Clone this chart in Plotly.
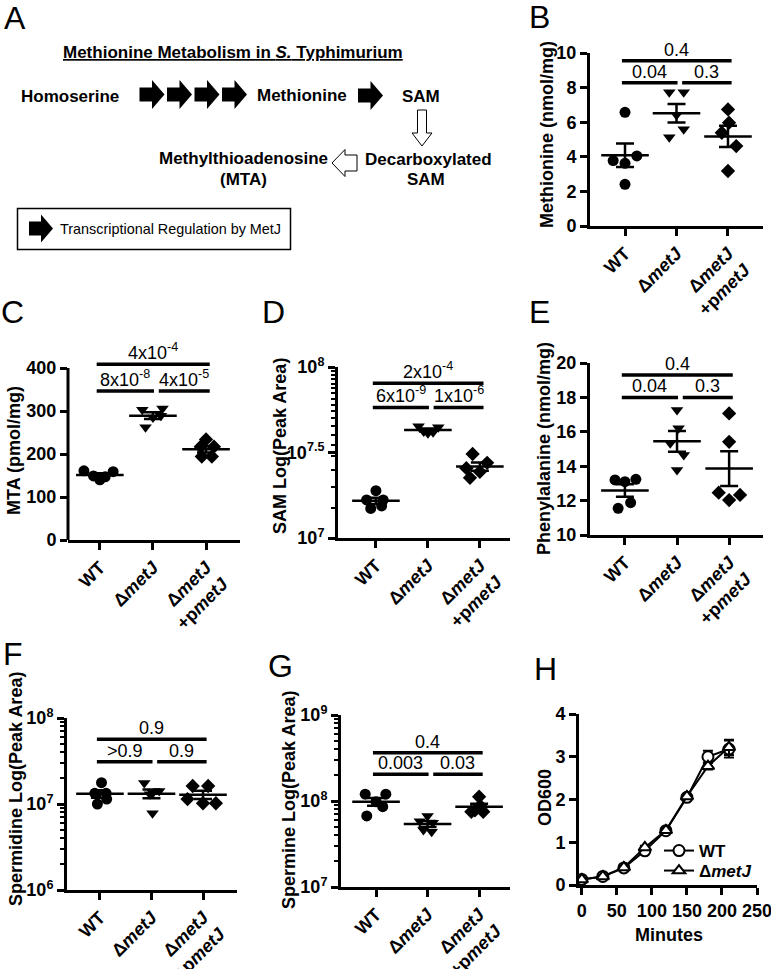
import numpy as np
import plotly.graph_objects as go

FIG_W, FIG_H = 771, 969
FONT = "Liberation Sans, Arial, sans-serif"

# ---------------- data ----------------
groups = ["WT", "Δ<i>metJ</i>", "Δ<i>metJ</i><br>+p<i>metJ</i>"]
comparisons = [(0, 2), (0, 1), (1, 2)]

# B  Methionine (nmol/mg)
met_wt = [6.57, 3.78, 3.62, 4.05, 2.41]
met_metj = [7.73, 7.73, 6.42, 5.59, 5.13]
met_comp = [6.74, 5.97, 5.39, 4.62, 3.18]
met_pvals = ["0.4", "0.04", "0.3"]
met_bar_y = [9.55, 8.28, 8.28]

# C  MTA (pmol/mg)
mta_wt = [161, 159, 140, 147, 149]
mta_metj = [303, 306, 285, 289, 262]
mta_comp = [234, 217, 217, 194, 194]
mta_pvals = ["4x10<sup>-4</sup>", "8x10<sup>-8</sup>", "4x10<sup>-5</sup>"]
mta_bar_y = [408.5, 346.5, 346.5]

# D  SAM peak area
sam_wt = [1.89e7, 1.67e7, 1.67e7, 1.49e7, 1.54e7]
sam_metj = [4.50e7, 4.45e7, 4.10e7, 4.20e7, 4.15e7]
sam_comp = [3.10e7, 2.56e7, 2.75e7, 2.44e7, 2.25e7]
sam_pvals = ["2x10<sup>-4</sup>", "6x10<sup>-9</sup>", "1x10<sup>-6</sup>"]
sam_bar_y = [8.04e7, 5.8e7, 5.8e7]

# E  Phenylalanine (nmol/mg)
phe_wt = [13.20, 13.10, 13.24, 11.55, 11.88]
phe_metj = [17.27, 16.20, 15.33, 14.65, 13.78]
phe_comp = [17.07, 15.42, 12.46, 12.33, 12.03]
phe_pvals = ["0.4", "0.04", "0.3"]
phe_bar_y = [19.3, 18.0, 18.0]

# F  Spermidine peak area
spd_wt = [1.77e7, 1.33e7, 1.33e7, 1.00e7, 1.14e7]
spd_metj = [1.75e7, 1.42e7, 1.35e7, 1.30e7, 7.8e6]
spd_comp = [1.62e7, 1.62e7, 1.14e7, 1.02e7, 1.02e7]
spd_pvals = ["0.9", "&gt;0.9", "0.9"]
spd_bar_y = [5.65e7, 3.1e7, 3.1e7]

# G  Spermine peak area
spm_wt = [1.20e8, 1.20e8, 9.8e7, 8.6e7, 6.7e7]
spm_metj = [6.7e7, 5.8e7, 5.6e7, 4.6e7, 4.4e7]
spm_comp = [1.12e8, 7.5e7, 8.8e7, 7.5e7, 7.8e7]
spm_pvals = ["0.4", "0.003", "0.03"]
spm_bar_y = [3.65e8, 2.04e8, 2.04e8]

# H  growth
minutes = [0, 30, 60, 90, 120, 150, 180, 210]
od_wt = [0.13, 0.20, 0.40, 0.80, 1.27, 2.05, 3.00, 3.18]
od_wt_err = [0.02, 0.02, 0.03, 0.04, 0.05, 0.05, 0.14, 0.20]
od_metj = [0.13, 0.20, 0.41, 0.88, 1.28, 2.07, 2.78, 3.22]
od_metj_err = [0.02, 0.02, 0.03, 0.04, 0.05, 0.05, 0.08, 0.18]

# scatter jitter (category units) for each group
met_jitter = [[0, -0.23, 0, 0.23, 0], [-0.14, 0.14, 0, 0.14, -0.14], [0, 0.02, -0.12, 0.16, 0]]
mta_jitter = [[-0.3, 0.25, 0, 0.1, -0.12], [-0.2, 0.18, 0, 0.15, -0.14], [0, -0.1, 0.15, -0.08, 0.11]]
sam_jitter = [[0, -0.18, 0.14, -0.1, 0.11], [-0.18, 0.2, 0, -0.08, 0.1], [-0.14, -0.26, 0.14, 0, -0.19]]
phe_jitter = [[-0.19, 0, 0.21, -0.13, 0.11], [0, 0.03, -0.13, 0.13, 0], [0, 0, -0.2, 0.21, 0]]
spd_jitter = [[0.03, -0.1, 0.12, -0.05, 0.13], [-0.14, 0.15, 0.03, -0.03, 0.02], [-0.2, 0.1, -0.3, 0.0, 0.25]]
spm_jitter = [[-0.21, 0.19, 0, 0.13, -0.18], [0, -0.15, 0.1, -0.08, 0.08], [0, -0.15, 0.02, 0.08, -0.08]]

# ---------------- helpers ----------------
def px(x):
    return x / FIG_W


def py(y):
    return 1 - y / FIG_H


fig = go.Figure()
annotations = []
shapes = []

AX_LINE = 3
TICK_W = 2.5
AXFS = 18
TFONT = dict(family=FONT, size=AXFS, color="black", weight="bold")


def ax_names(n):
    return ("x" if n == 1 else f"x{n}"), ("y" if n == 1 else f"y{n}")


def dot_panel(n, data, jitter, pvals, bar_y, log=False):
    xa, ya = ax_names(n)
    symbols = ["circle", "triangle-down", "diamond"]
    for g, (vals, jit) in enumerate(zip(data, jitter)):
        fig.add_trace(go.Scatter(
            x=[g + j for j in jit], y=vals, mode="markers",
            marker=dict(symbol=symbols[g], size=11, color="black", line=dict(width=0)),
            xaxis=xa, yaxis=ya, showlegend=False, hoverinfo="skip"))
        arr = np.array(vals, dtype=float)
        m = arr.mean()
        s = arr.std(ddof=1) / np.sqrt(len(arr))
        fig.add_trace(go.Scatter(
            x=[g], y=[m], mode="markers",
            marker=dict(symbol="line-ew", size=34, color="black",
                        line=dict(width=2.5, color="black")),
            error_y=dict(type="data", array=[s], width=9, thickness=2.5, color="black"),
            xaxis=xa, yaxis=ya, showlegend=False, hoverinfo="skip"))
    bx, by = [], []
    for (a, b), yv, lab in zip(comparisons, bar_y, pvals):
        x0 = a - 0.06 if a == 0 else a + 0.11
        x1 = b + 0.07 if b == 2 else b + 0.02
        bx += [x0, x1, None]
        by += [yv, yv, None]
        annotations.append(dict(
            x=(x0 + x1) / 2, y=(np.log10(yv) if log else yv), xref=xa, yref=ya,
            text=lab, showarrow=False, yanchor="bottom", xanchor="center",
            font=dict(family=FONT, size=18, color="black"), yshift=-1))
    fig.add_trace(go.Scatter(x=bx, y=by, mode="lines", line=dict(color="black", width=3.5),
                             xaxis=xa, yaxis=ya, showlegend=False, hoverinfo="skip"))


def set_axes(n, xdom, ydom, xrange, yrange, ytickvals, yticktext=None, log=False,
             yminor=None, yline=True, xcat=True, xtickvals=None):
    xa, ya = ax_names(n)
    xkey = "xaxis" if n == 1 else f"xaxis{n}"
    ykey = "yaxis" if n == 1 else f"yaxis{n}"
    xd = dict(domain=[px(xdom[0]), px(xdom[1])], range=xrange, anchor=ya,
              showline=True, linewidth=AX_LINE, linecolor="black", showgrid=False,
              zeroline=False, ticks="outside", ticklen=7, tickwidth=TICK_W,
              tickcolor="black", tickfont=TFONT, fixedrange=True, automargin=False,
              ticklabeloverflow="allow")
    if xcat:
        xd.update(tickmode="array", tickvals=[0, 1, 2], ticktext=groups, tickangle=-45)
    else:
        xd.update(tickmode="array", tickvals=xtickvals)
    yd = dict(domain=[py(ydom[0]), py(ydom[1])], range=yrange, anchor=xa,
              showline=yline, linewidth=AX_LINE, linecolor="black", showgrid=False,
              zeroline=False, ticks="outside", ticklen=7, tickwidth=TICK_W,
              tickcolor="black", tickfont=TFONT, tickmode="array", tickvals=ytickvals,
              fixedrange=True, automargin=False, ticklabeloverflow="allow")
    if yticktext is not None:
        yd["ticktext"] = yticktext
    if log:
        yd["type"] = "log"
    if yminor is not None:
        yd["minor"] = dict(tickmode="array", tickvals=yminor, ticks="outside", ticklen=4,
                           tickwidth=2, tickcolor="black", showgrid=False)
    fig.update_layout({xkey: xd, ykey: yd})


def ytitle(text, x, y):
    annotations.append(dict(x=px(x), y=py(y), xref="paper", yref="paper", text=text,
                            textangle=-90, showarrow=False, xanchor="center", yanchor="middle",
                            font=dict(family=FONT, size=AXFS, color="black", weight="bold")))


# ---------------- panels ----------------
dot_panel(1, [met_wt, met_metj, met_comp], met_jitter, met_pvals, met_bar_y)
set_axes(1, (590, 763), (226, 53), [-0.68, 2.68], [0, 10], [0, 2, 4, 6, 8, 10])
ytitle("Methionine (nmol/mg)", 547, 135)

dot_panel(2, [mta_wt, mta_metj, mta_comp], mta_jitter, mta_pvals, mta_bar_y)
set_axes(2, (68, 240), (540, 359.4), [-0.60, 2.64], [0, 420], [0, 100, 200, 300, 400], yline=False)
shapes.append(dict(type="line", xref="x2 domain", yref="y2", x0=0, x1=0, y0=0, y1=400,
                   line=dict(color="black", width=AX_LINE)))
ytitle("MTA (pmol/mg)", 14, 451)

sam_minor = [k * 5e6 for k in range(3, 20)]
dot_panel(3, [sam_wt, sam_metj, sam_comp], sam_jitter, sam_pvals, sam_bar_y, log=True)
set_axes(3, (338, 510), (538, 367), [-0.73, 2.58], [7, 8], [1e7, 10 ** 7.5, 1e8],
         ["10<sup>7</sup>", "10<sup>7.5</sup>", "10<sup>8</sup>"], log=True, yminor=sam_minor)
ytitle("SAM Log(Peak Area)", 280, 446)

dot_panel(4, [phe_wt, phe_metj, phe_comp], phe_jitter, phe_pvals, phe_bar_y)
set_axes(4, (590, 763), (535, 363), [-0.67, 2.65], [10, 20], [10, 12, 14, 16, 18, 20])
ytitle("Phenylalanine (nmol/mg)", 544, 449)

spd_minor = [m * 10 ** e for e in (6, 7) for m in range(2, 10)]
dot_panel(5, [spd_wt, spd_metj, spd_comp], spd_jitter, spd_pvals, spd_bar_y, log=True)
set_axes(5, (67, 237), (890, 718), [-0.64, 2.66], [6, 8], [1e6, 1e7, 1e8],
         ["10<sup>6</sup>", "10<sup>7</sup>", "10<sup>8</sup>"], log=True, yminor=spd_minor)
ytitle("Spermidine Log(Peak Area)", 16, 789)

spm_minor = [m * 10 ** e for e in (7, 8) for m in range(2, 10)]
dot_panel(6, [spm_wt, spm_metj, spm_comp], spm_jitter, spm_pvals, spm_bar_y, log=True)
set_axes(6, (341, 510), (887, 715), [-0.68, 2.60], [7, 9], [1e7, 1e8, 1e9],
         ["10<sup>7</sup>", "10<sup>8</sup>", "10<sup>9</sup>"], log=True, yminor=spm_minor)
ytitle("Spermine Log(Peak Area)", 289, 800)

# H growth curve
fig.add_trace(go.Scatter(
    x=minutes, y=od_wt, name="WT", mode="lines+markers",
    line=dict(color="black", width=2),
    marker=dict(symbol="circle", size=11, color="white", line=dict(color="black", width=2)),
    error_y=dict(type="data", array=od_wt_err, width=5, thickness=2, color="black"),
    xaxis="x7", yaxis="y7", hoverinfo="skip", legend="legend"))
fig.add_trace(go.Scatter(
    x=minutes, y=od_metj, name="Δ<i>metJ</i>", mode="lines+markers",
    line=dict(color="black", width=2),
    marker=dict(symbol="triangle-up", size=11, color="white", line=dict(color="black", width=2)),
    error_y=dict(type="data", array=od_metj_err, width=5, thickness=2, color="black"),
    xaxis="x7", yaxis="y7", hoverinfo="skip", legend="legend2"))
set_axes(7, (579, 757), (885, 714), [-4, 250], [0, 4], [0, 1, 2, 3, 4], xcat=False,
         xtickvals=[0, 50, 100, 150, 200, 250])
ytitle("OD600", 545, 798)
annotations.append(dict(x=px(669), y=py(935), xref="paper", yref="paper", text="Minutes",
                        showarrow=False, xanchor="center", yanchor="middle",
                        font=dict(family=FONT, size=AXFS, color="black", weight="bold")))

# ---------------- panel A diagram ----------------
def poly(points, fill, lw):
    d = "M " + " L ".join(f"{px(x):.5f},{py(y):.5f}" for x, y in points) + " Z"
    return dict(type="path", xref="paper", yref="paper", path=d, fillcolor=fill,
                line=dict(color="black", width=lw), layer="above")


def right_arrow(x0, yc, w=25, sh=7, hh=14.5):
    ws = x0 + w * 0.5
    return poly([(x0, yc - sh), (ws, yc - sh), (ws, yc - hh), (x0 + w, yc),
                 (ws, yc + hh), (ws, yc + sh), (x0, yc + sh)], "black", 0)


for cx in (152, 179.5, 207, 234.5):
    shapes.append(right_arrow(cx - 12.5, 94.5))
shapes.append(right_arrow(358, 95.5))
shapes.append(right_arrow(29, 228.5, w=24, sh=7, hh=14))
# open down arrow SAM -> decarboxylated SAM
shapes.append(poly([(417.5, 110), (426.5, 110), (426.5, 133), (432, 133), (422, 146),
                    (412, 133), (417.5, 133)], "white", 1))
# open left arrow decarboxylated SAM -> MTA
shapes.append(poly([(357, 155), (345, 155), (345, 149.5), (332, 163), (345, 176.5),
                    (345, 171), (357, 171)], "white", 1))
# legend box
shapes.append(dict(type="rect", xref="paper", yref="paper", x0=px(17.5), x1=px(290.5),
                   y0=py(208.5), y1=py(249.5), line=dict(color="black", width=1.5)))


def label(text, x, y, size=17, bold=True, xanchor="center"):
    annotations.append(dict(x=px(x), y=py(y), xref="paper", yref="paper", text=text,
                            showarrow=False, xanchor=xanchor, yanchor="middle",
                            font=dict(family=FONT, size=size, color="black",
                                      weight="bold" if bold else "normal")))


label("<u>Methionine Metabolism in <i>S.</i> Typhimurium</u>", 233, 52.5)
label("Homoserine", 70, 96.5)
label("Methionine", 302, 95.5)
label("SAM", 421, 96)
label("Methylthioadenosine", 243, 158.5)
label("(MTA)", 243, 179)
label("Decarboxylated", 363, 159.5, xanchor="left")
label("SAM", 426, 179)
label("Transcriptional Regulation by MetJ", 58, 229, size=14.4, bold=False, xanchor="left")

# panel letters
for letter, x, y in [("A", 15, 18), ("B", 539, 17), ("C", 12.5, 312), ("D", 273, 312),
                     ("E", 539, 312), ("F", 12.5, 654), ("G", 280.5, 666), ("H", 545.5, 668.5)]:
    annotations.append(dict(x=px(x), y=py(y), xref="paper", yref="paper", text=letter,
                            showarrow=False, xanchor="center", yanchor="middle",
                            font=dict(family=FONT, size=32, color="black")))

LEG_FONT = dict(family=FONT, size=17, color="black", weight="bold")
fig.update_layout(
    width=FIG_W, height=FIG_H,
    margin=dict(l=0, r=0, t=0, b=0, pad=0, autoexpand=False),
    paper_bgcolor="white", plot_bgcolor="white",
    annotations=annotations, shapes=shapes,
    showlegend=True,
    legend=dict(x=px(659), y=py(833), xanchor="left", yanchor="top",
                bgcolor="rgba(0,0,0,0)", font=LEG_FONT, itemwidth=30, borderwidth=0),
    legend2=dict(x=px(659), y=py(853), xanchor="left", yanchor="top",
                 bgcolor="rgba(0,0,0,0)", font=LEG_FONT, itemwidth=30, borderwidth=0),
)

fig.write_html("out.html", config={"displayModeBar": False},
               post_script="document.body.style.margin='0px';document.body.style.padding='0px';")
